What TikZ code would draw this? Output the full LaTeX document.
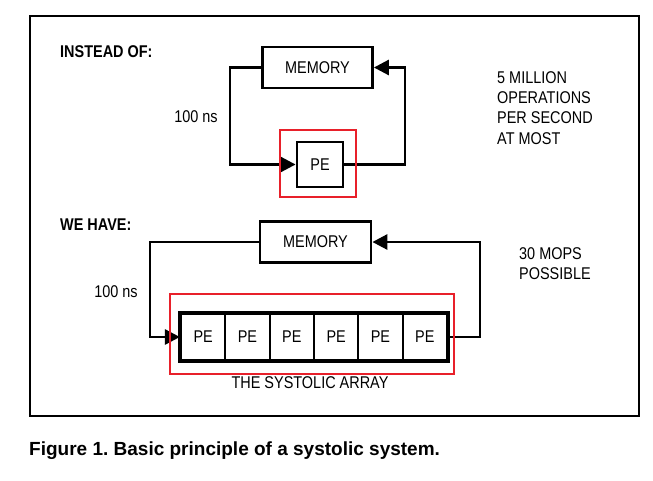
\documentclass[tikz,border=0pt]{standalone}
\usepackage{fontspec}
\setmainfont{Liberation Sans}
\newfontfamily\cf{Liberation Sans}[FakeStretch=0.85]
\usetikzlibrary{arrows.meta,positioning}
\definecolor{redmark}{HTML}{E8202A}
\frenchspacing
\begin{document}
\begin{tikzpicture}[x=1pt,y=-1pt,
  txt/.style={inner sep=0pt,font=\cf\fontsize{17}{20.4}\selectfont},
  btxt/.style={inner sep=0pt,font=\cf\bfseries\fontsize{17}{20.4}\selectfont},
  box/.style={draw,line width=2.8pt,inner sep=0pt,font=\cf\fontsize{17}{20}\selectfont},
  cell/.style={draw,line width=2.2pt,inner sep=0pt,minimum width=44.33pt,minimum height=46pt,font=\cf\fontsize{17}{20}\selectfont},
  wire/.style={line width=2.8pt,line join=miter},
  tip/.style={-{Triangle[length=15pt,width=15pt]}},
  redbox/.style={draw=redmark,line width=2pt}]
\useasboundingbox (0,0) rectangle (653,480);
\fill[white] (0,0) rectangle (653,480);
% frame
\draw[line width=2.6pt] (30,16) rectangle (639,416);
% ---- top part
\node[btxt,anchor=west] (insteadof) at (60,52) {INSTEAD OF:};
\node[box,minimum width=110pt,minimum height=41pt] (mem1) at (317.5,67.5) {MEMORY};
\node[box,minimum width=46pt,minimum height=45pt] (pe1) at (320,164.5) {PE};
\coordinate (l1) at (230,67.5);
\coordinate (r1) at (405,164.5);
\draw[wire,tip] (mem1.west) -- (l1) |- (pe1.west);
\draw[wire,tip] (pe1.east) -- (r1) |- (mem1.east);
\node[txt] (ns1) at (196,117) {100 ns};
\node[txt,anchor=north west,align=left] (mops1) at (497,71) {5 MILLION\\OPERATIONS\\PER SECOND\\AT MOST};
\draw[redbox] (280,130) rectangle (356,197);
% ---- bottom part
\node[btxt,anchor=west] (wehave) at (60,225) {WE HAVE:};
\node[box,minimum width=111pt,minimum height=41pt] (mem2) at (315.5,242) {MEMORY};
\foreach \i in {1,...,6}{
  \node[cell] (c\i) at ({181+44.33*(\i-0.5)},337) {PE};
}
\draw[line width=3pt] (c1.north west) rectangle (c6.south east);
\coordinate (l2) at (150,242);
\coordinate (r2) at (480,337);
\draw[wire,tip] (mem2.west) -- (l2) |- (c1.west);
\draw[wire,tip] (c6.east) -- (r2) |- (mem2.east);
\node[txt] (ns2) at (116,292) {100 ns};
\node[txt,anchor=north west,align=left] (mops2) at (519,247) {30 MOPS\\POSSIBLE};
\node[txt] (sa) at (310,383) {THE SYSTOLIC ARRAY};
\draw[redbox] (170,294) rectangle (454,374);
% caption
\node[inner sep=0pt,anchor=west,font=\bfseries\fontsize{19}{22}\selectfont] (cap) at (29,451) {Figure 1. Basic principle of a systolic system.};
\end{tikzpicture}
\end{document}
